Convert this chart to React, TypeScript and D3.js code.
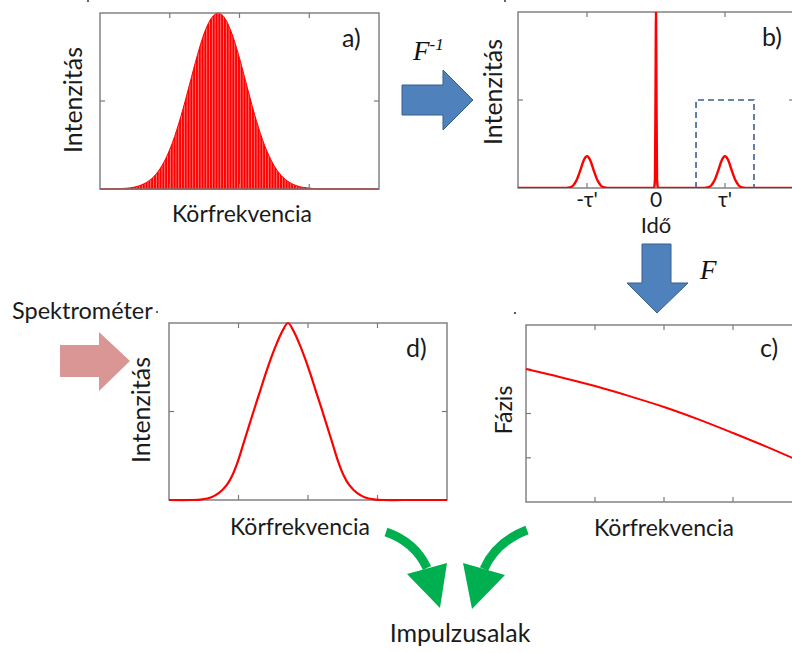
import React from 'react';
import * as d3 from 'd3';

const W = 792;
const H = 653;

const specX = [0, 8, 11, 14, 17, 20, 23, 26, 29, 32, 35, 38, 41, 42.3, 44, 47, 50, 53, 56, 59, 62, 65, 68, 71, 75, 80, 100];
const specEnv = [0, 0.003, 0.007, 0.018, 0.041, 0.083, 0.155, 0.265, 0.413, 0.588, 0.766, 0.912, 0.99, 1, 0.986, 0.895, 0.743, 0.564, 0.391, 0.248, 0.144, 0.076, 0.037, 0.016, 0.005, 0, 0];

// ---- Panel b: time-domain signal (inverse Fourier transform) ----
const timeT = [-2, -1.3, -1.25, -1.2, -1.15, -1.1, -1.05, -1, -0.95, -0.9, -0.85, -0.8, -0.75, -0.7, -0.03, -0.015, -0.006, 0, 0.006, 0.015, 0.03, 0.7, 0.75, 0.8, 0.85, 0.9, 0.95, 1, 1.05, 1.1, 1.15, 1.2, 1.25, 1.3, 2];
const timeI = [0, 0, 0.003, 0.014, 0.045, 0.097, 0.155, 0.18, 0.155, 0.097, 0.045, 0.014, 0.003, 0, 0, 0.05, 0.6, 1, 0.6, 0.05, 0, 0, 0.003, 0.014, 0.045, 0.097, 0.155, 0.18, 0.155, 0.097, 0.045, 0.014, 0.003, 0, 0];
const timeTickVals = [-1, 0, 1];
const timeTickLabels = ["-τ'", '0', "τ'"];
const windowT = [0.58, 1.42];
const windowTop = 0.5;

// ---- Panel c: retrieved spectral phase ----
const phaseX = [0, 12.5, 25, 37.5, 50, 62.5, 75, 87.5, 100];
const phaseY = [0.751, 0.705, 0.655, 0.598, 0.537, 0.467, 0.39, 0.31, 0.225];

// ---- Panel d: spectrometer intensity ----
const intX = [0, 8, 12, 15, 18, 20.8, 22.8, 24.8, 26.8, 28.8, 30.8, 32.8, 34.8, 36.8, 38.8, 40.8, 42.8, 44.8, 46.8, 48.8, 50.8, 52.8, 54.8, 56.8, 58.8, 60.8, 62.8, 64.8, 67.6, 70.6, 73.6, 77.6, 84, 100];
const intY = [0, 0, 0.004, 0.014, 0.04, 0.085, 0.14, 0.22, 0.32, 0.42, 0.52, 0.617, 0.715, 0.806, 0.886, 0.955, 1, 0.955, 0.886, 0.806, 0.715, 0.617, 0.52, 0.42, 0.32, 0.22, 0.14, 0.085, 0.04, 0.014, 0.004, 0, 0, 0];

const quarterTicks = [25, 50, 75];

const RED = '#ff0000';
const FRAME = '#7a7a7a';
const SANS = 'Lato, "Open Sans", sans-serif';
const SERIF = '"Liberation Serif", "DejaVu Serif", serif';

type Frame = { x: number; y: number; w: number; h: number };

function Axes({ f, xTicks, yTicks, xs, ys }: { f: Frame; xTicks: number[]; yTicks: number[]; xs: (v: number) => number; ys: (v: number) => number }) {
  const L = 5;
  return (
    <g>
      <rect x={f.x} y={f.y} width={f.w} height={f.h} fill="none" stroke={FRAME} strokeWidth={1.4} />
      {xTicks.map((t, i) => (
        <g key={'x' + i}>
          <line x1={xs(t)} x2={xs(t)} y1={f.y} y2={f.y + L} stroke={FRAME} strokeWidth={1.2} />
          <line x1={xs(t)} x2={xs(t)} y1={f.y + f.h} y2={f.y + f.h - L} stroke={FRAME} strokeWidth={1.2} />
        </g>
      ))}
      {yTicks.map((t, i) => (
        <g key={'y' + i}>
          <line x1={f.x} x2={f.x + L} y1={ys(t)} y2={ys(t)} stroke={FRAME} strokeWidth={1.2} />
          <line x1={f.x + f.w} x2={f.x + f.w - L} y1={ys(t)} y2={ys(t)} stroke={FRAME} strokeWidth={1.2} />
        </g>
      ))}
    </g>
  );
}

export default function App() {
  // Panel a
  const fa: Frame = { x: 100, y: 13, w: 279, h: 176 };
  const xa = d3.scaleLinear().domain([0, 100]).range([fa.x, fa.x + fa.w]);
  const ya = d3.scaleLinear().domain([0, 1]).range([fa.y + fa.h, fa.y]);
  const specPts = specX.map((x, i) => [x, specEnv[i]] as [number, number]);
  const areaA = d3.area<[number, number]>().x(d => xa(d[0])).y0(ya(0)).y1(d => ya(d[1])).curve(d3.curveMonotoneX)(specPts) || '';
  const lineA = d3.line<[number, number]>().x(d => xa(d[0])).y(d => ya(d[1])).curve(d3.curveMonotoneX)(specPts) || '';

  // Panel b
  const fb: Frame = { x: 518, y: 12, w: 276, h: 176 };
  const xb = d3.scaleLinear().domain([-2, 2]).range([fb.x, fb.x + fb.w]);
  const yb = d3.scaleLinear().domain([0, 1]).range([fb.y + fb.h, fb.y]);
  const timePts = timeT.map((t, i) => [t, timeI[i]] as [number, number]);
  const lineB = d3.line<[number, number]>().x(d => xb(d[0])).y(d => yb(d[1])).curve(d3.curveMonotoneX)(timePts) || '';

  // Panel c
  const fc: Frame = { x: 526, y: 325, w: 276, h: 177 };
  const xc = d3.scaleLinear().domain([0, 100]).range([fc.x, fc.x + fc.w]);
  const yc = d3.scaleLinear().domain([0, 1]).range([fc.y + fc.h, fc.y]);
  const phasePts = phaseX.map((x, i) => [x, phaseY[i]] as [number, number]);
  const lineC = d3.line<[number, number]>().x(d => xc(d[0])).y(d => yc(d[1])).curve(d3.curveMonotoneX)(phasePts) || '';

  // Panel d
  const fd: Frame = { x: 169, y: 323, w: 278, h: 177 };
  const xd = d3.scaleLinear().domain([0, 100]).range([fd.x, fd.x + fd.w]);
  const yd = d3.scaleLinear().domain([0, 1]).range([fd.y + fd.h, fd.y]);
  const intPts = intX.map((x, i) => [x, intY[i]] as [number, number]);
  const lineD = d3.line<[number, number]>().x(d => xd(d[0])).y(d => yd(d[1])).curve(d3.curveCatmullRom.alpha(0.5))(intPts) || '';

  const ink = '#1a1a1a';
  const t = (size: number) => ({ fontFamily: SANS, fontSize: size, fill: ink });

  return (
    <div style={{ position: 'absolute', left: 0, top: 0, width: W, height: H }}>
      <svg width={W} height={H} viewBox={`0 0 ${W} ${H}`} style={{ display: 'block', background: '#fff' }}>
        <defs>
          <pattern id="fringe" width={2.8} height={20} patternUnits="userSpaceOnUse">
            <rect width={2.8} height={20} fill={RED} />
            <rect x={2.0} width={0.8} height={20} fill="#fff" opacity={0.55} />
          </pattern>
          <clipPath id="clipB"><rect x={fb.x} y={fb.y} width={fb.w} height={fb.h} /></clipPath>
        </defs>

        {/* stray marks */}
        <circle cx={88} cy={1} r={1} fill="#333" />
        <circle cx={505} cy={1} r={1} fill="#333" />
        <circle cx={515} cy={313} r={1.1} fill="#333" />

        {/* ---- Panel a ---- */}
        <path d={areaA} fill="url(#fringe)" stroke="none" />
        <path d={lineA} fill="none" stroke={RED} strokeWidth={1} />
        <line x1={fa.x} x2={fa.x + fa.w} y1={ya(0)} y2={ya(0)} stroke={RED} strokeWidth={1.5} />
        <Axes f={fa} xTicks={quarterTicks} yTicks={[0.5]} xs={xa} ys={ya} />
        <text x={342} y={47} style={t(25)}>a)</text>
        <text x={242} y={222} textAnchor="middle" style={t(23)}>Körfrekvencia</text>
        <text transform="translate(82,100) rotate(-90)" textAnchor="middle" style={t(25)}>Intenzitás</text>

        {/* ---- Panel b ---- */}
        <Axes f={fb} xTicks={timeTickVals} yTicks={[0.5]} xs={xb} ys={yb} />
        <g clipPath="url(#clipB)">
          <path d={lineB} fill="none" stroke={RED} strokeWidth={2.4} strokeLinejoin="round" />
        </g>
        <path
          d={`M${xb(windowT[0])},${yb(0)} V${yb(windowTop)} H${xb(windowT[1])} V${yb(0)}`}
          fill="none" stroke="#3a5f8f" strokeWidth={1.6} strokeDasharray="6,4"
        />
        {timeTickVals.map((v, i) => (
          <text key={i} x={xb(v)} y={207} textAnchor="middle" style={t(21)}>{timeTickLabels[i]}</text>
        ))}
        <text x={xb(0)} y={233} textAnchor="middle" style={t(22)}>Idő</text>
        <text transform="translate(502,92) rotate(-90)" textAnchor="middle" style={t(25)}>Intenzitás</text>
        <text x={762} y={46} style={t(25)}>b)</text>

        {/* ---- Blue arrow F^-1 ---- */}
        <polygon points="402,85 443,85 443,70 473,100 443,130 443,115 402,115" fill="#4f81bd" stroke="#385d8a" strokeWidth={1} />
        <text x={413} y={60} style={{ fontFamily: SERIF, fontStyle: 'italic', fontSize: 27, fill: '#111' }}>
          F<tspan dy={-10} fontSize={17}>-1</tspan>
        </text>

        {/* ---- Blue arrow F (down) ---- */}
        <polygon points="642,244 671,244 671,283 688,283 657,313 627,283 642,283" fill="#4f81bd" stroke="#385d8a" strokeWidth={1} />
        <text x={700} y={279} style={{ fontFamily: SERIF, fontStyle: 'italic', fontSize: 27, fill: '#111' }}>F</text>

        {/* ---- Panel c ---- */}
        <Axes f={fc} xTicks={quarterTicks} yTicks={[0.25, 0.5, 0.75]} xs={xc} ys={yc} />
        <path d={lineC} fill="none" stroke={RED} strokeWidth={2} />
        <text x={760} y={357} style={t(25)}>c)</text>
        <text transform="translate(512,410) rotate(-90)" textAnchor="middle" style={t(23)}>Fázis</text>
        <text x={664} y={536} textAnchor="middle" style={t(23)}>Körfrekvencia</text>

        {/* ---- Panel d ---- */}
        <Axes f={fd} xTicks={quarterTicks} yTicks={[0.5]} xs={xd} ys={yd} />
        <path d={lineD} fill="none" stroke={RED} strokeWidth={2.2} />
        <text x={406} y={357} style={t(25)}>d)</text>
        <text transform="translate(150,410) rotate(-90)" textAnchor="middle" style={t(25)}>Intenzitás</text>
        <text x={300} y={535} textAnchor="middle" style={t(23)}>Körfrekvencia</text>

        {/* ---- Spectrometer arrow ---- */}
        <text x={12} y={319} style={t(23.5)}>Spektrométer</text>
        <circle cx={157} cy={312} r={1} fill="#333" />
        <polygon points="60,345 99,345 99,332 130,361 99,391 99,377 60,377" fill="#d99694" />

        {/* ---- Green arrows ---- */}
        <path d="M386,532 Q415,542 427,568" fill="none" stroke="#00b050" strokeWidth={9} />
        <polygon points="407,574 447,563 440,608" fill="#00b050" />
        <path d="M527,530 Q496,542 484,569" fill="none" stroke="#00b050" strokeWidth={9} />
        <polygon points="463,563 505,575 472,609" fill="#00b050" />
        <text x={460} y={642} textAnchor="middle" style={t(25)}>Impulzusalak</text>
      </svg>
    </div>
  );
}
